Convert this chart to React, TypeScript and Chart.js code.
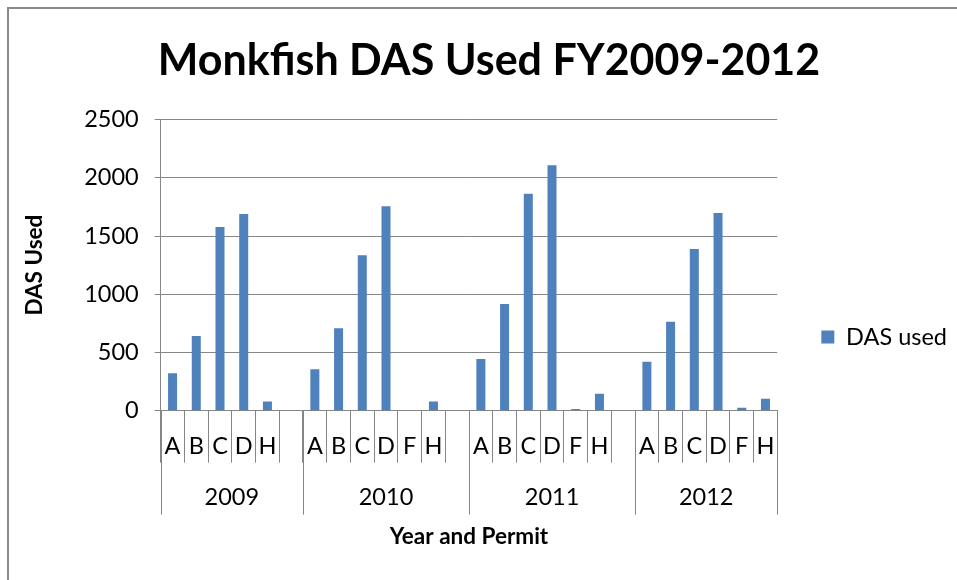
import React, { useEffect, useRef } from 'react';
import { Chart, registerables } from 'chart.js';

Chart.register(...registerables);

// Category axis (inner level): permit letters, '' = spacer between years
const permits = ['A', 'B', 'C', 'D', 'H', '', 'A', 'B', 'C', 'D', 'F', 'H', '', 'A', 'B', 'C', 'D', 'F', 'H', '', 'A', 'B', 'C', 'D', 'F', 'H'];
// DAS used values per category
const dasUsed = [321, 642, 1577, 1689, 80, null, 355, 708, 1336, 1755, null, 80, null, 444, 917, 1864, 2107, 14, 146, null, 421, 763, 1388, 1697, 26, 103];
// Outer level of the category axis
const years = ['2009', '2010', '2011', '2012'];
const yearSpans = [6, 7, 7, 6];
const yMax = 2500;
const yStep = 500;

const FONT = 'Lato, "Open Sans", sans-serif';
const GRID = '#868686';
const TEXT = '#000000';
const BAR = '#4F81BD';

const yearAxisPlugin = {
  id: 'yearAxis',
  afterDraw(chart: any) {
    const xs = chart.scales.x;
    const ctx = chart.ctx;
    const n = permits.length;
    const w = (xs.right - xs.left) / n;
    const top = chart.chartArea.bottom;
    const bottom = top + 104;
    const edges = [0];
    let acc = 0;
    yearSpans.forEach((s) => {
      acc += s;
      edges.push(acc);
    });
    ctx.save();
    ctx.strokeStyle = GRID;
    ctx.lineWidth = 1;
    edges.forEach((e) => {
      const x = Math.round(xs.left + e * w) + 0.5;
      ctx.beginPath();
      ctx.moveTo(x, top);
      ctx.lineTo(x, bottom);
      ctx.stroke();
    });
    ctx.font = `23.5px ${FONT}`;
    ctx.fillStyle = TEXT;
    ctx.textAlign = 'center';
    ctx.textBaseline = 'middle';
    years.forEach((y, i) => {
      const cx = xs.left + ((edges[i] + edges[i + 1]) / 2) * w;
      ctx.fillText(y, cx, top + 87);
    });
    ctx.restore();
  },
};

export default function App() {
  const ref = useRef<HTMLCanvasElement | null>(null);

  useEffect(() => {
    if (!ref.current) return;
    const chart = new Chart(ref.current, {
      type: 'bar',
      data: {
        labels: permits,
        datasets: [
          {
            label: 'DAS used',
            data: dasUsed,
            backgroundColor: BAR,
            borderWidth: 0,
            barPercentage: 0.38,
            categoryPercentage: 1,
          },
        ],
      },
      options: {
        responsive: false,
        animation: false,
        devicePixelRatio: 1,
        layout: { padding: { left: 21, right: 0, top: 0, bottom: 0 } },
        plugins: {
          title: {
            display: true,
            text: 'Monkfish DAS Used FY2009-2012',
            color: TEXT,
            font: { family: FONT, size: 43, weight: 'bold', lineHeight: 1.2 },
            padding: { top: 35, bottom: 33 },
          },
          legend: {
            position: 'right',
            align: 'center',
            title: {
              display: true,
              text: '',
              font: { size: 10, lineHeight: 1 },
              padding: { top: 84, bottom: 0 },
            },
            labels: {
              boxWidth: 13,
              boxHeight: 13,
              padding: 44,
              color: TEXT,
              font: { family: FONT, size: 23.5 },
            },
          },
          tooltip: { enabled: false },
        },
        scales: {
          x: {
            grid: { offset: true, drawOnChartArea: false, tickLength: 52, color: GRID },
            border: { color: GRID },
            ticks: {
              padding: -30,
              color: TEXT,
              autoSkip: false,
              maxRotation: 0,
              font: { family: FONT, size: 23.5 },
            },
            title: {
              display: true,
              text: 'Year and Permit',
              color: TEXT,
              font: { family: FONT, size: 22.5, weight: 'bold', lineHeight: 1.2 },
              padding: { top: 0, bottom: 29.5 },
            },
            afterFit: (s: any) => {
              s.height = 169.3;
            },
          },
          y: {
            min: 0,
            max: yMax,
            ticks: {
              stepSize: yStep,
              padding: 16,
              color: TEXT,
              font: { family: FONT, size: 23.5 },
              callback: (v: any) => String(v),
            },
            grid: { color: GRID, tickLength: 6 },
            border: { color: GRID },
            title: {
              display: true,
              text: 'DAS Used',
              color: TEXT,
              font: { family: FONT, size: 22.5, weight: 'bold', lineHeight: 1.2 },
              padding: { top: 0, bottom: 0 },
            },
            afterFit: (s: any) => {
              s.width = 139.7;
            },
          },
        },
      },
      plugins: [yearAxisPlugin],
    } as any);
    return () => chart.destroy();
  }, []);

  return (
    <div
      style={{
        position: 'absolute',
        left: 0,
        top: 0,
        width: 957,
        height: 580,
        overflow: 'hidden',
        background: '#ffffff',
      }}
    >
      <canvas ref={ref} width={957} height={580} style={{ display: 'block' }} />
      <div
        style={{
          position: 'absolute',
          left: 7,
          top: 7,
          width: 960,
          height: 600,
          borderTop: '2px solid #8a8a8a',
          borderLeft: '2px solid #8a8a8a',
          pointerEvents: 'none',
        }}
      />
    </div>
  );
}
